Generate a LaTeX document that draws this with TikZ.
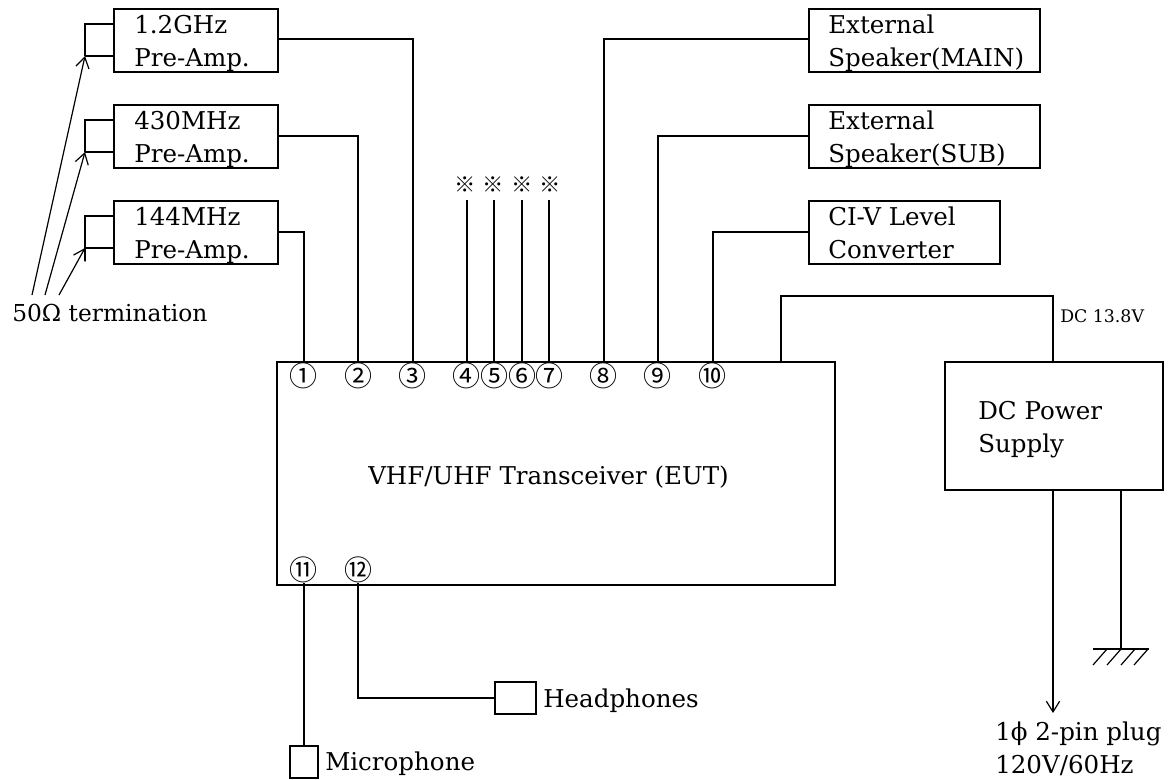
\documentclass[tikz,border=0pt]{standalone}
\usepackage{fontspec}
\setmainfont{DejaVu Serif}
\newfontfamily\symf{Noto Sans CJK JP}
\usetikzlibrary{arrows.meta}
\tikzset{
 x=0.75pt,y=-0.75pt,
 wire/.style={line width=1.15pt,line cap=rect},
 thinwire/.style={line width=0.9pt},
 arr/.style={thinwire,-{Straight Barb[length=8pt,width=10pt,line width=0.9pt]}},
 boxn/.style={draw,line width=1.25pt,inner sep=0pt,anchor=north west},
 lab/.style={font=\fontsize{18.4}{24.7}\selectfont,align=left,anchor=north west,inner sep=0pt},
 one/.style={font=\fontsize{18.4}{24.7}\selectfont,anchor=base west,inner sep=0pt},
 port/.style={font=\symf\fontsize{21}{21}\selectfont,inner sep=0pt},
 star/.style={font=\symf\fontsize{16}{16}\selectfont,inner sep=0pt},
}
\newcommand{\bx}[5]{\node[boxn,minimum width=#4*0.75pt,minimum height=#5*0.75pt] (#1) at (#2,#3) {};}
\begin{document}
\begin{tikzpicture}
\useasboundingbox (0,0) rectangle (1173,779);
% boxes
\bx{amp1}{113}{8}{164}{63}
\bx{amp2}{113}{104}{164}{63}
\bx{amp3}{113}{200}{164}{63}
\bx{spk1}{808}{8}{231}{63}
\bx{spk2}{808}{104}{231}{63}
\bx{civ}{808}{200}{191}{63}
\bx{main}{276}{361}{558}{223}
\bx{dc}{944}{361}{218}{128}
\bx{hp}{494}{681}{41}{32}
\bx{mic}{289}{745}{28}{32}
% box labels
\node[lab] (t1) at (134,15) {1.2GHz\\Pre-Amp.};
\node[lab] (t2) at (134,111) {430MHz\\Pre-Amp.};
\node[lab] (t3) at (134,207) {144MHz\\Pre-Amp.};
\node[lab] (t4) at (828,15) {External\\Speaker(MAIN)};
\node[lab] (t5) at (828,111) {External\\Speaker(SUB)};
\node[lab] (t6) at (828,207) {CI-V Level\\Converter};
\node[lab] (t7) at (978,401) {DC Power\\Supply};
\node[one] (t8) at (368,484) {VHF/UHF Transceiver (EUT)};
\node[one] (t9) at (543,707) {Headphones};
\node[one] (t10) at (325,770) {Microphone};
\node[one,font=\fontsize{17.5}{20}\selectfont] (term) at (12,321) {50Ω termination};
\node[one,font=\fontsize{13}{15}\selectfont] (dcv) at (1060,322) {DC 13.8V};
\node[lab] (plug) at (995,722) {1ϕ 2-pin plug\\120V/60Hz};
% ports
\foreach \n/\x/\s in {p1/303/①,p2/358/②,p3/412/③,p4/466/④,p5/494/⑤,p6/522/⑥,p7/549/⑦,p8/603/⑧,p9/657/⑨,p10/712/⑩}
  \node[port] (\n) at (\x,376) {\s};
\node[port] (p11) at (303,570) {⑪};
\node[port] (p12) at (358,570) {⑫};
% open lines
\foreach \n/\x/\tx in {s4/467/465,s5/494/493,s6/522/522,s7/549/550}{
  \coordinate (\n) at (\x,200);
  \node[star] (\n t) at (\tx,185) {※};
  \draw[wire,line cap=butt] (\n) -- (\x,361);
}
% connectors
\draw[wire] (amp1.east |- 0,39) -- (413,39) -- (413,361);
\draw[wire] (amp2.east |- 0,136) -- (358,136) -- (358,361);
\draw[wire] (amp3.east |- 0,232) -- (304,232) -- (304,361);
\draw[wire] (spk1.west |- 0,39) -- (604,39) -- (604,361);
\draw[wire] (spk2.west |- 0,136) -- (658,136) -- (658,361);
\draw[wire] (civ.west |- 0,232) -- (713,232) -- (713,361);
\draw[wire] (781,361) -- (781,296) -- (1053,296) -- (1053,361);
\draw[wire] (358,584) |- (hp.west);
\draw[wire] (304,584) -- (mic.north -| 304,0);
% terminations
\foreach \b/\a/\c/\e in {amp1/24/56/56,amp2/120/152/152,amp3/216/248/261}{
  \coordinate (\b a) at (85,\a);
  \coordinate (\b b) at (85,\c);
  \draw[wire,line cap=butt] (\b.west |- 0,\a) -- (\b a) -- (85,\e);
  \draw[wire,line cap=butt] (\b.west |- 0,\c) -- (\b b);
}
\coordinate (f1) at (32,295); \coordinate (f2) at (45,295); \coordinate (f3) at (59,295);
\draw[arr] (f1) -- (amp1b);
\draw[arr] (f2) -- (amp2b);
\draw[arr] (f3) -- (amp3b);
% power and ground
\coordinate (acend) at (1053,713);
\draw[arr] (dc.south -| 1053,0) -- (acend);
\coordinate (gnd) at (1121,649);
\draw[wire] (dc.south -| 1121,0) -- (gnd);
\draw[wire,line cap=butt] (1093,649) -- (1149,649);
\foreach \x in {1107,1121,1135,1148}
  \draw[thinwire] (\x,649) -- (\x-14,665);
\end{tikzpicture}
\end{document}
